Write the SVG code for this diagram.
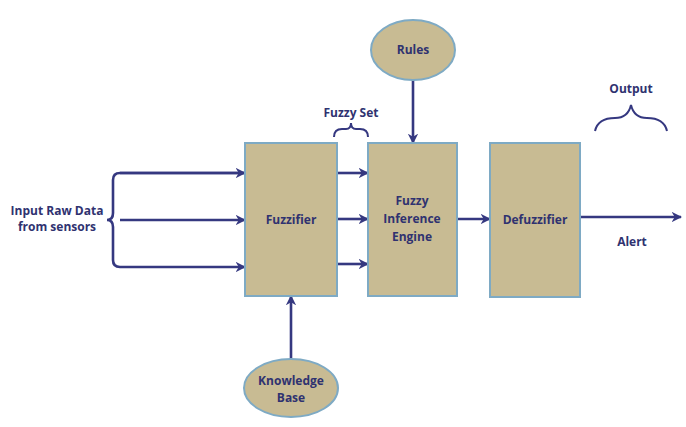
<svg xmlns="http://www.w3.org/2000/svg" width="686" height="427" viewBox="0 0 686 427">
<defs>
<style>
.box{fill:#c8bb93;stroke:#7eaac4;stroke-width:2}
.ln{fill:none;stroke:#353880;stroke-width:2.6}
.br{fill:none;stroke:#353880;stroke-width:2}
.t{font-family:"Open Sans","Liberation Sans",sans-serif;font-weight:bold;font-size:12px;fill:#2f3270;text-anchor:middle}
</style>
<marker id="ah" viewBox="0 0 10 10" refX="9" refY="5" markerWidth="4" markerHeight="4" orient="auto" markerUnits="strokeWidth">
<path d="M0,0 L10,5 L0,10 L3,5 Z" fill="#353880"/>
</marker>
</defs>
<rect width="686" height="427" fill="#ffffff"/>
<g id="connectors">
<path class="ln" d="M245,173 L120,173 Q113,173 113,180 L113,213 Q113,220 107,220 Q113,220 113,227 L113,260 Q113,267 120,267 L245,267" marker-end="url(#ah)"/>
<path class="ln" d="M120,173 L245,173" marker-end="url(#ah)"/>
<path class="ln" d="M120,220 L245,220" marker-end="url(#ah)"/>
<path class="ln" d="M337,173 L368,173" marker-end="url(#ah)"/>
<path class="ln" d="M337,219 L368,219" marker-end="url(#ah)"/>
<path class="ln" d="M337,264 L368,264" marker-end="url(#ah)"/>
<path class="ln" d="M413,80 L413,143" marker-end="url(#ah)"/>
<path class="ln" d="M291,359 L291,296" marker-end="url(#ah)"/>
<path class="ln" d="M457,219 L490,219" marker-end="url(#ah)"/>
<path class="ln" d="M580,217 L681,217" marker-end="url(#ah)"/>
</g>
<g id="fuzzy-set-label">
<path class="br" d="M334,137 Q334,129 342,129 L346,129 Q351,129 351,123 Q351,129 356,129 L360,129 Q368,129 368,137"/>
<text class="t" x="351" y="117">Fuzzy Set</text>
</g>
<g id="output-label">
<path class="br" d="M595,131 Q598,118 615,118 Q628,118 631,105 Q634,118 647,118 Q664,118 667,131"/>
<text class="t" x="631" y="93">Output</text>
</g>
<g id="input">
<text class="t" x="57" y="215">Input Raw Data</text>
<text class="t" x="57" y="231">from sensors</text>
</g>
<g id="fuzzifier">
<rect class="box" x="245" y="143" width="92" height="153"/>
<text class="t" x="291" y="224">Fuzzifier</text>
</g>
<g id="inference">
<rect class="box" x="368" y="143" width="89" height="153"/>
<text class="t" x="412" y="205">Fuzzy</text>
<text class="t" x="412" y="223">Inference</text>
<text class="t" x="412" y="241">Engine</text>
</g>
<g id="defuzzifier">
<rect class="box" x="490" y="143" width="90" height="154"/>
<text class="t" x="535" y="224">Defuzzifier</text>
</g>
<g id="rules">
<ellipse class="box" cx="413" cy="50" rx="42" ry="30"/>
<text class="t" x="413" y="54">Rules</text>
</g>
<g id="knowledge">
<ellipse class="box" cx="291" cy="388" rx="47" ry="29"/>
<text class="t" x="291" y="385">Knowledge</text>
<text class="t" x="291" y="402">Base</text>
</g>
<g id="alert">
<text class="t" x="632" y="246">Alert</text>
</g>
</svg>
